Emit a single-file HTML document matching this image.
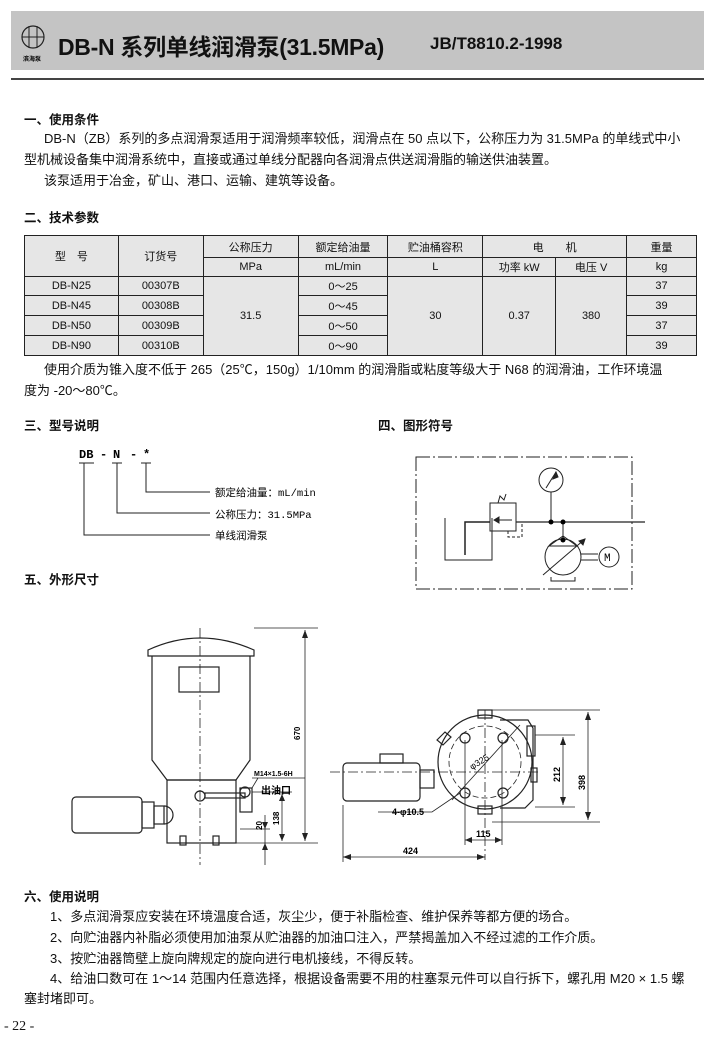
<!DOCTYPE html>
<html><head><meta charset="utf-8"><style>
*{margin:0;padding:0}
body{width:704px;height:1041px;background:#fff;position:relative;overflow:hidden;font-family:"Liberation Sans","Noto Sans CJK SC",sans-serif;color:#111}
.a{position:absolute;white-space:nowrap}
.t{font-size:13px}
.h{font-size:12.5px;font-weight:bold}
table{position:absolute;left:24px;top:235px;width:673px;border-collapse:collapse;font-size:11px}
td{border:1.3px solid #222;text-align:center;background:#e6e6e6;padding:0;height:18px}
</style></head><body>
<div class="a" style="left:11px;top:11px;width:693px;height:59px;background:#c4c4c4"></div>
<div class="a" style="left:11px;top:78px;width:693px;height:2px;background:#444"></div>
<svg class="a" style="left:18px;top:22px" width="34" height="44"><circle cx="15" cy="15" r="11" fill="none" stroke="#222" stroke-width="1.2"/><line x1="11" y1="4" x2="11" y2="26" stroke="#222"/><line x1="19" y1="4" x2="19" y2="26" stroke="#222"/><line x1="4" y1="15" x2="26" y2="15" stroke="#222"/><text x="5" y="39" font-size="6" font-weight="bold">滨海泵</text></svg>
<div class="a" style="left:58px;top:28px;font-size:23px;font-weight:bold;letter-spacing:-0.3px">DB-N 系列单线润滑泵(31.5MPa)</div>
<div class="a" style="left:430px;top:34px;font-size:17px;font-weight:bold">JB/T8810.2-1998</div>

<div class="a h" style="left:24px;top:109px">一、使用条件</div>
<div class="a t" style="left:44px;top:128px">DB-N（ZB）系列的多点润滑泵适用于润滑频率较低，润滑点在 50 点以下，公称压力为 31.5MPa 的单线式中小</div>
<div class="a t" style="left:24px;top:149px">型机械设备集中润滑系统中，直接或通过单线分配器向各润滑点供送润滑脂的输送供油装置。</div>
<div class="a t" style="left:44px;top:170px">该泵适用于冶金，矿山、港口、运输、建筑等设备。</div>

<div class="a h" style="left:24px;top:207px">二、技术参数</div>
<table>
<tr style="height:22px"><td rowspan="2" style="width:93px">型　号</td><td rowspan="2" style="width:84px">订货号</td><td style="width:94px">公称压力</td><td style="width:89px">额定给油量</td><td style="width:94px">贮油桶容积</td><td colspan="2">电　　机</td><td style="width:69px">重量</td></tr>
<tr style="height:17px"><td>MPa</td><td>mL/min</td><td>L</td><td style="width:72px">功率 kW</td><td style="width:70px">电压 V</td><td>kg</td></tr>
<tr style="height:19px"><td>DB-N25</td><td>00307B</td><td rowspan="4">31.5</td><td>0～25</td><td rowspan="4">30</td><td rowspan="4">0.37</td><td rowspan="4">380</td><td>37</td></tr>
<tr style="height:20px"><td>DB-N45</td><td>00308B</td><td>0～45</td><td>39</td></tr>
<tr style="height:20px"><td>DB-N50</td><td>00309B</td><td>0～50</td><td>37</td></tr>
<tr style="height:20px"><td>DB-N90</td><td>00310B</td><td>0～90</td><td>39</td></tr>
</table>
<div class="a t" style="left:44px;top:359px">使用介质为锥入度不低于 265（25℃，150g）1/10mm 的润滑脂或粘度等级大于 N68 的润滑油，工作环境温</div>
<div class="a t" style="left:24px;top:380px">度为 -20～80℃。</div>

<div class="a h" style="left:24px;top:415px">三、型号说明</div>
<div class="a h" style="left:378px;top:415px">四、图形符号</div>
<svg class="a" style="left:0;top:440px" width="704" height="160" font-family="Liberation Mono,Noto Sans CJK SC,monospace" font-size="10.5">
<g font-weight="bold" font-size="12"><text x="79" y="18">DB</text><text x="100" y="18">-</text><text x="113" y="18">N</text><text x="130" y="18">-</text><text x="143" y="18">*</text></g>
<g stroke="#222" stroke-width="1" fill="none">
<line x1="79" y1="23" x2="94" y2="23"/><line x1="112" y1="23" x2="122" y2="23"/><line x1="141" y1="23" x2="151" y2="23"/>
<polyline points="146,23 146,52 210,52"/><polyline points="117,23 117,73 210,73"/><polyline points="84,23 84,95 210,95"/>
</g>
<text x="215" y="56">额定给油量：mL/min</text><text x="215" y="78">公称压力：31.5MPa</text><text x="215" y="99">单线润滑泵</text>
<g stroke="#222" fill="none" stroke-width="1">
<rect x="416" y="17" width="216" height="132" stroke-dasharray="14,3,2,3"/>
<circle cx="551" cy="40" r="12"/><line x1="546" y1="48" x2="556" y2="32"/><polygon points="556,32 553,39 558,37" fill="#222"/>
<line x1="551" y1="52" x2="551" y2="82"/>
<rect x="490" y="63" width="26" height="28"/><path d="M498 63 L500 56 L504 60 L506 54"/>
<line x1="494" y1="80" x2="512" y2="80"/><polygon points="494,80 499,77 499,83" fill="#222"/>
<line x1="516" y1="82" x2="645" y2="82" stroke-width="1.3"/>
<path d="M508 91 V97 H522 V82" stroke-dasharray="3,2"/>
<polyline points="490,82 465,82 465,115" stroke-width="1.5"/>
<polyline points="445,78 445,120 492,120 492,78"/>
<line x1="563" y1="82" x2="563" y2="100"/>
<circle cx="563" cy="117" r="18"/><polygon points="549,106 577,106 563,96"/>
<line x1="543" y1="135" x2="585" y2="99"/><polygon points="585,99 579,101 583,105" fill="#222"/>
<path d="M551 137 V141 H575 V137"/>
<line x1="581" y1="114" x2="598" y2="114"/><line x1="581" y1="120" x2="598" y2="120"/>
<circle cx="609" cy="117" r="10"/>
</g>
<circle cx="551" cy="82" r="2.5"/><circle cx="563" cy="82" r="2.5"/><circle cx="563" cy="100" r="2.5"/>
<text x="604" y="121" font-size="11">M</text>
</svg>

<div class="a h" style="left:24px;top:569px">五、外形尺寸</div>
<svg class="a" style="left:0;top:610px" width="704" height="260" font-family="Liberation Sans,Noto Sans CJK SC,sans-serif" font-size="8" font-weight="bold">
<g stroke="#222" stroke-width="1.2" fill="none">
<path d="M148 40 Q200 16 254 40 V46 H148 Z"/>
<path d="M152 46 V150 L167 170 H236 L250 150 V46"/>
<rect x="179" y="57" width="40" height="25"/>
<rect x="167" y="170" width="69" height="63"/>
<line x1="200" y1="18" x2="200" y2="255" stroke-dasharray="10,3,2,3" stroke-width="0.8"/>
<rect x="72" y="187" width="70" height="36" rx="4"/>
<rect x="142" y="192" width="12" height="26"/><rect x="154" y="196" width="10" height="18"/><path d="M164 196 a9 9 0 0 1 0 18"/>
<circle cx="200" cy="186" r="5"/><rect x="205" y="183" width="40" height="5"/>
<rect x="240" y="178" width="12" height="24"/><circle cx="245" cy="182" r="5"/>
<rect x="180" y="226" width="6" height="9"/><rect x="213" y="226" width="6" height="9"/>
<g stroke-width="0.8"><line x1="254" y1="18" x2="318" y2="18"/><line x1="236" y1="233" x2="318" y2="233"/><line x1="305" y1="20" x2="305" y2="231"/>
<line x1="252" y1="182" x2="292" y2="182"/><line x1="282" y1="182" x2="282" y2="231"/><line x1="240" y1="219" x2="270" y2="219"/><line x1="265" y1="205" x2="265" y2="255"/>
<line x1="252" y1="168" x2="305" y2="168"/><line x1="252" y1="178" x2="258" y2="168"/></g>
</g>
<g fill="#222"><polygon points="305,20 302,28 308,28"/><polygon points="305,231 302,223 308,223"/><polygon points="282,184 279,191 285,191"/><polygon points="282,231 279,224 285,224"/><polygon points="265,219 262,212 268,212"/><polygon points="265,233 262,240 268,240"/></g>
<text transform="translate(300,130) rotate(-90)">670</text>
<text transform="translate(279,215) rotate(-90)">138</text>
<text transform="translate(262,220) rotate(-90)">20</text>
<text x="254" y="166" font-size="7">M14×1.5-6H</text>
<text x="261" y="184" font-size="10">出油口</text>
<g stroke="#222" stroke-width="1.2" fill="none">
<circle cx="485" cy="152" r="47"/>
<circle cx="485" cy="152" r="36" stroke-dasharray="6,3" stroke-width="0.8"/>
<rect x="478" y="100" width="14" height="8"/><rect x="478" y="196" width="14" height="8"/>
<path d="M500 110 H528 L533 118 V190 L525 198 H500"/>
<rect x="527" y="116" width="8" height="30"/><rect x="531" y="158" width="6" height="14"/>
<rect x="343" y="153" width="77" height="38" rx="4"/><rect x="380" y="144" width="23" height="9"/>
<rect x="420" y="160" width="14" height="18"/>
<path d="M437 130 l8 -8 l6 5 l-8 8z"/>
<circle cx="465" cy="128" r="5"/><circle cx="503" cy="128" r="5"/><circle cx="465" cy="183" r="5"/><circle cx="503" cy="183" r="5"/>
<g stroke-width="0.8">
<line x1="330" y1="162" x2="540" y2="162" stroke-dasharray="10,3,2,3"/>
<line x1="485" y1="100" x2="485" y2="250" stroke-dasharray="10,3,2,3"/>
<line x1="452" y1="190" x2="520" y2="115"/>
<line x1="492" y1="100" x2="600" y2="100"/><line x1="492" y1="212" x2="600" y2="212"/><line x1="588" y1="102" x2="588" y2="210"/>
<line x1="535" y1="125" x2="575" y2="125"/><line x1="535" y1="197" x2="575" y2="197"/><line x1="563" y1="127" x2="563" y2="195"/>
<line x1="465" y1="130" x2="465" y2="235"/><line x1="502" y1="130" x2="502" y2="235"/><line x1="465" y1="230" x2="502" y2="230"/>
<line x1="343" y1="195" x2="343" y2="252"/><line x1="343" y1="247" x2="485" y2="247"/>
<polyline points="378,202 432,202 460,183"/>
</g></g>
<g fill="#222"><polygon points="588,102 585,110 591,110"/><polygon points="588,210 585,202 591,202"/><polygon points="563,127 560,135 566,135"/><polygon points="563,195 560,187 566,187"/><polygon points="343,247 351,244 351,250"/><polygon points="485,247 477,244 477,250"/><polygon points="465,230 472,227 472,233"/><polygon points="502,230 495,227 495,233"/></g>
<text transform="translate(472,160) rotate(-32)" font-size="9" font-weight="normal">φ325</text>
<text transform="translate(585,180) rotate(-90)" font-size="9">398</text>
<text transform="translate(560,172) rotate(-90)" font-size="9">212</text>
<text x="476" y="227" font-size="9">115</text>
<text x="403" y="244" font-size="9">424</text>
<text x="392" y="205" font-size="9">4-φ10.5</text>
</svg>

<div class="a h" style="left:24px;top:886px">六、使用说明</div>
<div class="a t" style="left:50px;top:906px">1、多点润滑泵应安装在环境温度合适，灰尘少，便于补脂检查、维护保养等都方便的场合。</div>
<div class="a t" style="left:50px;top:927px">2、向贮油器内补脂必须使用加油泵从贮油器的加油口注入，严禁揭盖加入不经过滤的工作介质。</div>
<div class="a t" style="left:50px;top:948px">3、按贮油器筒壁上旋向牌规定的旋向进行电机接线，不得反转。</div>
<div class="a t" style="left:50px;top:968px">4、给油口数可在 1～14 范围内任意选择，根据设备需要不用的柱塞泵元件可以自行拆下，螺孔用 M20 × 1.5 螺</div>
<div class="a t" style="left:24px;top:988px">塞封堵即可。</div>
<div class="a" style="left:4px;top:1019px;font-family:'Liberation Serif',serif;font-size:14px">- 22 -</div>
</body></html>
